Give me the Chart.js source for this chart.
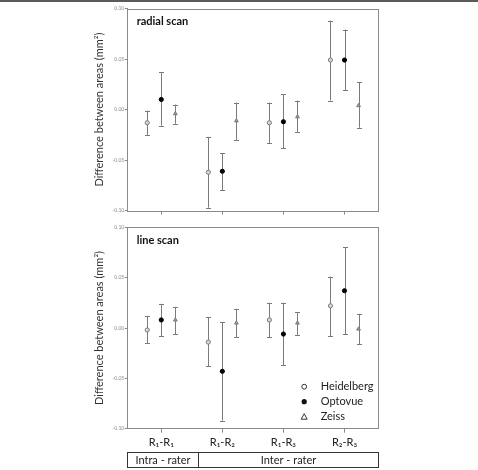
<!DOCTYPE html>
<html>
<head>
<meta charset="utf-8">
<script src="https://cdn.jsdelivr.net/npm/chart.js@4"></script>
<style>
  html, body { margin: 0; padding: 0; background: #fff; }
  body { width: 478px; height: 470px; position: relative; overflow: hidden; }
  #topbar { position: absolute; left: 0; top: 0; width: 478px; height: 2px; background: #5a5a5a; }
  #c1 { position: absolute; left: 0; top: 0; }
  #c2 { position: absolute; left: 0; top: 215px; }
</style>
</head>
<body>
<div id="topbar"></div>
<canvas id="c1" width="478" height="220"></canvas>
<canvas id="c2" width="478" height="255"></canvas>
<script>
// ---------- data ----------
const categories = ['R\u2081-R\u2081', 'R\u2081-R\u2082', 'R\u2081-R\u2083', 'R\u2082-R\u2083'];
const groups = ['Intra - rater', 'Inter - rater'];
const seriesNames = ['Heidelberg', 'Optovue', 'Zeiss'];
const yTicks = [-0.10, -0.05, 0.00, 0.05, 0.10];
const panelTitles = ['radial scan', 'line scan'];
const yAxisTitle = 'Difference between areas (mm\u00B2)';

// radial scan
const radialHeidelbergMean = [-0.013, -0.062, -0.013, 0.049];
const radialHeidelbergLow  = [-0.025, -0.097, -0.033, 0.009];
const radialHeidelbergHigh = [-0.001, -0.027, 0.007, 0.088];
const radialOptovueMean = [0.010, -0.061, -0.012, 0.049];
const radialOptovueLow  = [-0.016, -0.080, -0.038, 0.019];
const radialOptovueHigh = [0.037, -0.043, 0.015, 0.079];
const radialZeissMean = [-0.004, -0.011, -0.007, 0.004];
const radialZeissLow  = [-0.014, -0.030, -0.022, -0.018];
const radialZeissHigh = [0.005, 0.007, 0.009, 0.027];

// line scan
const lineHeidelbergMean = [-0.002, -0.014, 0.008, 0.022];
const lineHeidelbergLow  = [-0.015, -0.038, -0.009, -0.008];
const lineHeidelbergHigh = [0.012, 0.011, 0.025, 0.051];
const lineOptovueMean = [0.008, -0.043, -0.006, 0.037];
const lineOptovueLow  = [-0.008, -0.092, -0.037, -0.006];
const lineOptovueHigh = [0.024, 0.006, 0.025, 0.080];
const lineZeissMean = [0.008, 0.005, 0.005, -0.001];
const lineZeissLow  = [-0.006, -0.009, -0.007, -0.016];
const lineZeissHigh = [0.021, 0.019, 0.016, 0.014];

// ---------- styles ----------
const FONT = 'Lato, "Open Sans", sans-serif';
const FRAME = '#8a8a8a';
const BAR = '#7a7a7a';
const seriesOffset = [-0.23, 0, 0.23];
const seriesStyle = [
  { pointStyle: 'circle', radius: 2.1, borderColor: '#7a7a7a', backgroundColor: '#d8d8d8', borderWidth: 1 },
  { pointStyle: 'circle', radius: 2.1, borderColor: '#000', backgroundColor: '#000', borderWidth: 1 },
  { pointStyle: 'triangle', radius: 2.2, borderColor: '#7a7a7a', backgroundColor: '#a0a0a0', borderWidth: 1 }
];

function buildDatasets(means, lows, highs) {
  return means.map((m, s) => ({
    label: seriesNames[s],
    data: m.map((v, i) => ({ x: i + seriesOffset[s], y: v, lo: lows[s][i], hi: highs[s][i] })),
    pointStyle: seriesStyle[s].pointStyle,
    pointRadius: seriesStyle[s].radius,
    pointBorderColor: seriesStyle[s].borderColor,
    pointBackgroundColor: seriesStyle[s].backgroundColor,
    pointBorderWidth: seriesStyle[s].borderWidth,
    showLine: false
  }));
}

const errorBarPlugin = {
  id: 'errorBars',
  beforeDatasetsDraw(chart) {
    const ctx = chart.ctx;
    const ys = chart.scales.y;
    ctx.save();
    ctx.strokeStyle = BAR;
    ctx.lineWidth = 1;
    chart.data.datasets.forEach((ds, di) => {
      const meta = chart.getDatasetMeta(di);
      meta.data.forEach((pt, i) => {
        const d = ds.data[i];
        const x = Math.round(pt.x) + 0.5;
        const yl = ys.getPixelForValue(d.lo);
        const yh = ys.getPixelForValue(d.hi);
        ctx.beginPath();
        ctx.moveTo(x, yh); ctx.lineTo(x, yl);
        ctx.moveTo(x - 2.5, Math.round(yh) + 0.5); ctx.lineTo(x + 2.5, Math.round(yh) + 0.5);
        ctx.moveTo(x - 2.5, Math.round(yl) + 0.5); ctx.lineTo(x + 2.5, Math.round(yl) + 0.5);
        ctx.stroke();
      });
    });
    ctx.restore();
  }
};

const framePlugin = {
  id: 'frame',
  afterDraw(chart, args, opts) {
    const ctx = chart.ctx;
    const a = chart.chartArea;
    ctx.save();
    ctx.strokeStyle = FRAME;
    ctx.lineWidth = 1;
    ctx.strokeRect(Math.round(a.left) - 0.5, Math.round(a.top) + 0.5, Math.round(a.right - a.left), Math.round(a.bottom - a.top));
    ctx.fillStyle = '#111';
    ctx.font = 'bold 11px ' + FONT;
    ctx.textBaseline = 'middle';
    ctx.textAlign = 'left';
    ctx.fillText(opts.title, a.left + 9, a.top + 13);
    ctx.restore();
  }
};

const legendPlugin = {
  id: 'customLegend',
  afterDraw(chart, args, opts) {
    if (!opts.show) return;
    const ctx = chart.ctx;
    const a = chart.chartArea;
    ctx.save();
    ctx.font = '11px ' + FONT;
    ctx.textBaseline = 'middle';
    ctx.textAlign = 'left';
    const rows = [a.bottom - 42, a.bottom - 27, a.bottom - 12];
    chart.data.datasets.forEach((ds, i) => {
      const y = rows[i];
      const mx = a.right - 74.5;
      ctx.strokeStyle = '#333';
      ctx.fillStyle = '#111';
      ctx.lineWidth = 1;
      if (i === 0) {
        ctx.beginPath(); ctx.arc(mx, y, 2.4, 0, Math.PI * 2); ctx.stroke();
      } else if (i === 1) {
        ctx.beginPath(); ctx.arc(mx, y, 2.6, 0, Math.PI * 2); ctx.fill();
      } else {
        ctx.beginPath(); ctx.moveTo(mx, y - 3); ctx.lineTo(mx + 3, y + 2.5); ctx.lineTo(mx - 3, y + 2.5); ctx.closePath(); ctx.stroke();
      }
      ctx.fillStyle = '#222';
      ctx.fillText(ds.label, a.right - 58, y);
    });
    ctx.restore();
  }
};

const tablePlugin = {
  id: 'groupTable',
  afterDraw(chart, args, opts) {
    if (!opts.show) return;
    const ctx = chart.ctx;
    const a = chart.chartArea;
    const xs = chart.scales.x;
    const top = Math.round(a.bottom + 23.6) + 0.5;
    const h = 15;
    const left = Math.round(a.left) - 0.5;
    const right = Math.round(a.right) - 0.5;
    const div = Math.round(xs.getPixelForValue(0.595)) + 0.5;
    ctx.save();
    ctx.strokeStyle = '#333';
    ctx.lineWidth = 1;
    ctx.strokeRect(left, top, right - left, h);
    ctx.beginPath(); ctx.moveTo(div, top); ctx.lineTo(div, top + h); ctx.stroke();
    ctx.fillStyle = '#222';
    ctx.font = '11px ' + FONT;
    ctx.textAlign = 'center';
    ctx.textBaseline = 'middle';
    ctx.fillText(groups[0], (left + div) / 2, top + h / 2 + 0.5);
    ctx.fillText(groups[1], (div + right) / 2, top + h / 2 + 0.5);
    ctx.restore();
  }
};

function makeOptions(idx, showLabels) {
  return {
    responsive: false,
    animation: false,
    devicePixelRatio: 1,
    layout: { padding: idx === 0
      ? { left: 93, right: 99.3, top: 8.5, bottom: 4.3 }
      : { left: 93, right: 99.3, top: 12.3, bottom: 21.3 } },
    plugins: {
      legend: { display: false },
      tooltip: { enabled: false },
      frame: { title: panelTitles[idx] },
      customLegend: { show: idx === 1 },
      groupTable: { show: idx === 1 }
    },
    scales: {
      x: {
        type: 'linear',
        min: -0.55, max: 3.56,
        afterBuildTicks(s) { s.ticks = categories.map((c, i) => ({ value: i })); },
        afterFit(s) { s.height = idx === 0 ? 5 : 20; },
        grid: { drawOnChartArea: false, drawTicks: true, tickLength: 4, color: FRAME },
        border: { display: false },
        ticks: {
          display: showLabels,
          padding: 3.4,
          color: '#222',
          font: { family: FONT, size: 11 },
          maxRotation: 0, autoSkip: false,
          callback: (v) => categories[Math.round(v)]
        }
      },
      y: {
        min: -0.10, max: 0.10,
        afterBuildTicks(s) { s.ticks = yTicks.map(v => ({ value: v })); },
        afterFit(s) { s.width = 34.7; },
        grid: { drawOnChartArea: false, drawTicks: true, tickLength: 3, color: FRAME },
        border: { display: false },
        ticks: {
          padding: 0.5,
          color: '#8a8a8a',
          font: { family: FONT, size: 5 },
          callback: (v) => Number(v).toFixed(2)
        },
        title: {
          display: true,
          text: yAxisTitle,
          color: '#333',
          font: { family: FONT, size: 11 },
          padding: { top: 0, bottom: 0 }
        }
      }
    }
  };
}

new Chart(document.getElementById('c1'), {
  type: 'scatter',
  data: { datasets: buildDatasets(
    [radialHeidelbergMean, radialOptovueMean, radialZeissMean],
    [radialHeidelbergLow, radialOptovueLow, radialZeissLow],
    [radialHeidelbergHigh, radialOptovueHigh, radialZeissHigh]) },
  options: makeOptions(0, false),
  plugins: [errorBarPlugin, framePlugin, legendPlugin, tablePlugin]
});

new Chart(document.getElementById('c2'), {
  type: 'scatter',
  data: { datasets: buildDatasets(
    [lineHeidelbergMean, lineOptovueMean, lineZeissMean],
    [lineHeidelbergLow, lineOptovueLow, lineZeissLow],
    [lineHeidelbergHigh, lineOptovueHigh, lineZeissHigh]) },
  options: makeOptions(1, true),
  plugins: [errorBarPlugin, framePlugin, legendPlugin, tablePlugin]
});
</script>
</body>
</html>
